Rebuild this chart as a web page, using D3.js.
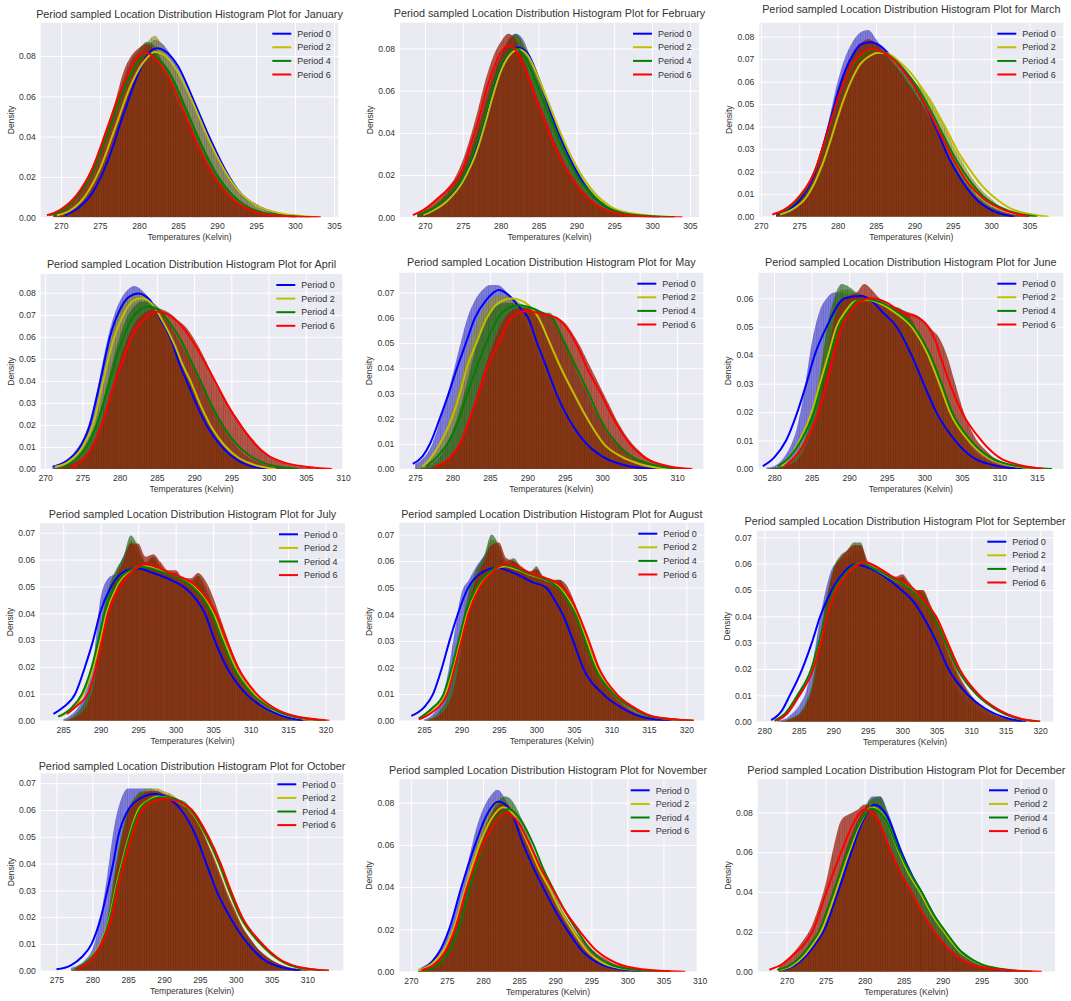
<!DOCTYPE html>
<html>
<head>
<meta charset="utf-8">
<script src="https://cdn.jsdelivr.net/npm/d3@7"></script>
<style>
body { margin: 0; background: #fff; }
svg text { font-family: "Liberation Sans", Arial, sans-serif; fill: #333; }
</style>
</head>
<body>
<svg id="chart" width="1071" height="1001"></svg>
<script>
// Data.
const months = ["January","February","March","April","May","June","July","August","September","October","November","December"];
const periods = ["Period 0","Period 2","Period 4","Period 6"];
// centre of the first 1 K histogram bin, per month
const histStart = [269,269,272,271,275,279,285,285,282,277,271,269];
const xTickValues = [
  [270,275,280,285,290,295,300,305],
  [270,275,280,285,290,295,300,305],
  [270,275,280,285,290,295,300,305],
  [270,275,280,285,290,295,300,305,310],
  [275,280,285,290,295,300,305,310],
  [280,285,290,295,300,305,310,315],
  [285,290,295,300,305,310,315,320],
  [285,290,295,300,305,310,315,320],
  [280,285,290,295,300,305,310,315,320],
  [275,280,285,290,295,300,305,310],
  [270,275,280,285,290,295,300,305,310],
  [270,275,280,285,290,295,300]
];
const yTickValues = [
  [0,0.02,0.04,0.06,0.08],
  [0,0.02,0.04,0.06,0.08],
  [0,0.01,0.02,0.03,0.04,0.05,0.06,0.07,0.08],
  [0,0.01,0.02,0.03,0.04,0.05,0.06,0.07,0.08],
  [0,0.01,0.02,0.03,0.04,0.05,0.06,0.07],
  [0,0.01,0.02,0.03,0.04,0.05,0.06],
  [0,0.01,0.02,0.03,0.04,0.05,0.06,0.07],
  [0,0.01,0.02,0.03,0.04,0.05,0.06,0.07],
  [0,0.01,0.02,0.03,0.04,0.05,0.06,0.07],
  [0,0.01,0.02,0.03,0.04,0.05,0.06,0.07],
  [0,0.02,0.04,0.06,0.08],
  [0,0.02,0.04,0.06,0.08]
];

// histogram density per 1 K bin, order: Period 0, 2, 4, 6
const janHist = [
  [0,0.0005,0.002,0.004,0.007,0.012,0.019,0.028,0.039,0.051,0.063,0.074,0.083,0.088,0.086,0.081,0.074,0.066,0.057,0.048,0.039,0.031,0.023,0.017,0.012,0.008,0.005,0.003,0.0018,0.001,0.0005,0.0002,0],
  [0,0.001,0.003,0.006,0.010,0.016,0.024,0.034,0.046,0.058,0.069,0.078,0.086,0.090,0.085,0.078,0.071,0.063,0.055,0.046,0.038,0.030,0.023,0.017,0.012,0.008,0.006,0.004,0.0025,0.0015,0.0008,0.0004,0.0002],
  [0.001,0.003,0.006,0.010,0.015,0.023,0.032,0.043,0.055,0.068,0.078,0.083,0.087,0.085,0.077,0.070,0.062,0.053,0.044,0.036,0.028,0.021,0.015,0.011,0.007,0.005,0.003,0.002,0.0012,0.0007,0.0004,0.0002,0.0001],
  [0.002,0.004,0.007,0.011,0.017,0.025,0.035,0.046,0.058,0.072,0.080,0.084,0.086,0.082,0.073,0.067,0.057,0.049,0.040,0.032,0.024,0.018,0.013,0.009,0.006,0.004,0.0025,0.0015,0.001,0.0006,0.0003,0.0002,0.0001]
];
const febHist = [
  [0.0005,0.002,0.004,0.007,0.010,0.015,0.022,0.030,0.041,0.053,0.065,0.076,0.083,0.087,0.084,0.075,0.066,0.057,0.047,0.038,0.030,0.023,0.017,0.012,0.008,0.005,0.0035,0.002,0.0012,0.0007,0.0004,0.0002,0],
  [0.0005,0.002,0.004,0.007,0.010,0.015,0.021,0.029,0.039,0.051,0.063,0.074,0.082,0.086,0.083,0.075,0.067,0.058,0.049,0.040,0.032,0.025,0.019,0.014,0.010,0.007,0.0045,0.003,0.0018,0.001,0.0006,0.0003,0.0001],
  [0.001,0.003,0.005,0.008,0.012,0.017,0.023,0.032,0.043,0.056,0.068,0.077,0.084,0.087,0.082,0.073,0.064,0.055,0.046,0.037,0.029,0.022,0.016,0.012,0.008,0.0055,0.0035,0.0022,0.0013,0.0008,0.0004,0.0002,0.0001],
  [0.002,0.004,0.007,0.010,0.014,0.019,0.027,0.038,0.051,0.065,0.076,0.083,0.087,0.084,0.075,0.065,0.055,0.046,0.037,0.029,0.022,0.016,0.012,0.008,0.0055,0.0035,0.0022,0.0014,0.0008,0.0005,0.0003,0.0002,0.0001]
];
const marHist = [
  [0.001,0.003,0.005,0.008,0.013,0.020,0.031,0.045,0.060,0.071,0.078,0.082,0.083,0.079,0.074,0.070,0.066,0.061,0.056,0.050,0.044,0.037,0.030,0.023,0.017,0.012,0.008,0.005,0.003,0.002,0.001,0.0005,0.0002,0.0001],
  [0.0005,0.0015,0.003,0.006,0.010,0.016,0.024,0.034,0.046,0.057,0.066,0.072,0.075,0.076,0.074,0.071,0.068,0.064,0.060,0.057,0.053,0.047,0.040,0.032,0.026,0.020,0.015,0.011,0.008,0.005,0.0035,0.002,0.001,0.0005],
  [0.001,0.002,0.005,0.008,0.013,0.021,0.031,0.043,0.055,0.065,0.072,0.076,0.078,0.077,0.074,0.070,0.066,0.062,0.057,0.052,0.046,0.040,0.033,0.026,0.020,0.015,0.010,0.007,0.0045,0.003,0.0018,0.001,0.0005,0.0002],
  [0.001,0.002,0.005,0.009,0.014,0.021,0.032,0.044,0.056,0.066,0.073,0.077,0.079,0.077,0.073,0.069,0.065,0.060,0.055,0.050,0.044,0.038,0.031,0.024,0.018,0.013,0.009,0.006,0.004,0.0025,0.0015,0.0008,0.0004,0.0002]
];
const aprHist = [
  [0.001,0.002,0.004,0.008,0.013,0.022,0.036,0.053,0.067,0.076,0.081,0.083,0.081,0.077,0.071,0.064,0.057,0.049,0.041,0.032,0.024,0.018,0.013,0.009,0.006,0.004,0.0025,0.0015,0.0008,0.0004,0.0002,0.0001,0,0,0,0],
  [0.0005,0.0015,0.003,0.006,0.011,0.018,0.030,0.046,0.061,0.071,0.077,0.080,0.080,0.077,0.072,0.066,0.059,0.051,0.043,0.035,0.027,0.020,0.015,0.010,0.007,0.0045,0.003,0.0018,0.001,0.0005,0.0002,0.0001,0,0,0,0],
  [0,0.001,0.002,0.004,0.008,0.014,0.022,0.034,0.048,0.060,0.069,0.074,0.076,0.076,0.074,0.070,0.064,0.058,0.052,0.045,0.038,0.031,0.024,0.018,0.013,0.009,0.006,0.004,0.0025,0.0015,0.0008,0.0004,0.0002,0.0001,0,0],
  [0,0.0005,0.0015,0.003,0.005,0.009,0.016,0.026,0.037,0.049,0.059,0.066,0.070,0.072,0.073,0.072,0.070,0.067,0.064,0.059,0.053,0.046,0.039,0.033,0.027,0.022,0.017,0.013,0.009,0.006,0.004,0.0028,0.0018,0.0011,0.0006,0.0003]
];
const mayHist = [
  [0.002,0.004,0.008,0.016,0.026,0.037,0.049,0.060,0.067,0.071,0.073,0.073,0.071,0.067,0.062,0.056,0.049,0.041,0.034,0.027,0.021,0.016,0.012,0.009,0.007,0.005,0.0035,0.0025,0.0015,0.001,0.0006,0.0003,0.0001,0,0,0,0],
  [0.0005,0.0015,0.004,0.008,0.015,0.024,0.034,0.046,0.056,0.063,0.067,0.069,0.069,0.068,0.066,0.064,0.061,0.056,0.050,0.043,0.036,0.030,0.024,0.019,0.015,0.011,0.008,0.006,0.004,0.0025,0.0015,0.001,0.0005,0.0002,0.0001,0,0],
  [0,0.0005,0.0015,0.004,0.008,0.015,0.024,0.035,0.047,0.057,0.063,0.065,0.066,0.066,0.065,0.064,0.063,0.062,0.062,0.057,0.050,0.043,0.036,0.030,0.023,0.018,0.013,0.010,0.007,0.005,0.003,0.002,0.001,0.0005,0.0002,0.0001,0],
  [0,0,0.0005,0.0015,0.003,0.006,0.011,0.018,0.027,0.037,0.046,0.054,0.060,0.063,0.064,0.064,0.063,0.062,0.061,0.060,0.058,0.054,0.049,0.043,0.037,0.031,0.025,0.019,0.014,0.010,0.007,0.0045,0.003,0.0018,0.001,0.0005,0.0002]
];
const junHist = [
  [0.0005,0.001,0.003,0.007,0.014,0.027,0.044,0.055,0.060,0.062,0.062,0.061,0.061,0.060,0.058,0.056,0.053,0.050,0.046,0.041,0.035,0.029,0.023,0.018,0.013,0.009,0.006,0.004,0.003,0.002,0.001,0.0006,0.0003,0.0001,0,0,0,0],
  [0,0.0005,0.001,0.003,0.006,0.011,0.019,0.033,0.050,0.059,0.063,0.063,0.061,0.060,0.059,0.058,0.057,0.057,0.056,0.053,0.048,0.043,0.037,0.030,0.023,0.017,0.012,0.008,0.005,0.0035,0.002,0.0012,0.0007,0.0004,0.0002,0.0001,0,0],
  [0,0.0005,0.001,0.0025,0.005,0.010,0.018,0.031,0.049,0.060,0.065,0.064,0.062,0.061,0.060,0.058,0.057,0.057,0.056,0.054,0.049,0.044,0.038,0.031,0.024,0.018,0.013,0.009,0.006,0.004,0.0025,0.0015,0.0008,0.0004,0.0002,0.0001,0,0],
  [0,0,0.0005,0.0015,0.003,0.007,0.013,0.023,0.038,0.052,0.059,0.061,0.062,0.065,0.063,0.060,0.058,0.057,0.056,0.055,0.054,0.052,0.049,0.046,0.040,0.031,0.022,0.015,0.010,0.007,0.0045,0.003,0.0018,0.001,0.0005,0.0003,0.0001,0]
];
const julHist = [
  [0.0005,0.002,0.005,0.011,0.022,0.046,0.053,0.055,0.061,0.066,0.062,0.058,0.060,0.056,0.055,0.054,0.050,0.050,0.052,0.046,0.038,0.030,0.022,0.016,0.011,0.008,0.0055,0.0035,0.0022,0.0013,0.0007,0.0003,0.0001,0,0],
  [0,0.001,0.003,0.007,0.015,0.033,0.048,0.055,0.060,0.067,0.064,0.059,0.061,0.058,0.055,0.055,0.052,0.052,0.054,0.050,0.043,0.035,0.027,0.020,0.015,0.011,0.0075,0.005,0.0033,0.002,0.0012,0.0006,0.0003,0.0001,0],
  [0,0.001,0.0035,0.008,0.017,0.035,0.049,0.056,0.061,0.069,0.065,0.059,0.061,0.057,0.055,0.055,0.052,0.052,0.054,0.049,0.042,0.034,0.026,0.019,0.014,0.010,0.007,0.0048,0.0031,0.0019,0.0011,0.0006,0.0003,0.0001,0],
  [0,0.0005,0.002,0.005,0.012,0.028,0.044,0.053,0.059,0.066,0.066,0.061,0.062,0.059,0.056,0.056,0.053,0.053,0.055,0.052,0.046,0.038,0.030,0.022,0.016,0.012,0.0085,0.0058,0.0038,0.0024,0.0014,0.0008,0.0004,0.0002,0.0001]
];
const augHist = [
  [0.0005,0.002,0.006,0.015,0.032,0.048,0.053,0.058,0.062,0.066,0.063,0.058,0.059,0.056,0.054,0.055,0.051,0.050,0.049,0.043,0.035,0.027,0.020,0.015,0.011,0.0075,0.005,0.0033,0.002,0.0012,0.0006,0.0003,0.0001,0,0],
  [0,0.001,0.003,0.007,0.016,0.033,0.048,0.056,0.061,0.068,0.066,0.059,0.060,0.057,0.055,0.057,0.053,0.052,0.052,0.049,0.042,0.034,0.027,0.020,0.015,0.011,0.0075,0.005,0.0033,0.002,0.0012,0.0006,0.0003,0.0001,0],
  [0,0.001,0.0035,0.008,0.018,0.035,0.049,0.057,0.062,0.070,0.066,0.060,0.061,0.057,0.055,0.058,0.053,0.052,0.053,0.049,0.042,0.034,0.026,0.019,0.014,0.010,0.007,0.0048,0.0031,0.0019,0.0011,0.0006,0.0003,0.0001,0],
  [0,0.0005,0.002,0.005,0.012,0.028,0.044,0.054,0.060,0.066,0.067,0.061,0.060,0.058,0.056,0.057,0.054,0.053,0.053,0.051,0.045,0.037,0.029,0.022,0.016,0.012,0.0085,0.0058,0.0038,0.0024,0.0014,0.0008,0.0004,0.0002,0.0001]
];
const sepHist = [
  [0.0005,0.001,0.003,0.006,0.011,0.022,0.038,0.051,0.059,0.061,0.062,0.065,0.065,0.058,0.057,0.055,0.053,0.052,0.050,0.049,0.046,0.042,0.036,0.029,0.023,0.017,0.012,0.009,0.006,0.004,0.0028,0.0018,0.0011,0.0006,0.0003,0.0001,0],
  [0,0.0005,0.0015,0.003,0.007,0.015,0.030,0.046,0.058,0.062,0.064,0.067,0.067,0.060,0.058,0.058,0.056,0.054,0.055,0.052,0.050,0.050,0.044,0.038,0.031,0.024,0.018,0.013,0.009,0.0065,0.0045,0.003,0.002,0.0012,0.0006,0.0003,0.0001],
  [0,0.0005,0.0015,0.003,0.007,0.015,0.031,0.047,0.058,0.063,0.065,0.068,0.068,0.059,0.058,0.057,0.056,0.054,0.055,0.052,0.050,0.049,0.044,0.037,0.030,0.023,0.017,0.013,0.009,0.0065,0.0045,0.003,0.002,0.0012,0.0006,0.0003,0.0001],
  [0,0.0003,0.001,0.0025,0.006,0.013,0.028,0.045,0.057,0.062,0.065,0.067,0.067,0.061,0.059,0.058,0.056,0.055,0.056,0.053,0.050,0.050,0.045,0.039,0.032,0.025,0.019,0.014,0.010,0.007,0.005,0.0033,0.0021,0.0012,0.0007,0.0003,0.0001]
];
const octHist = [
  [0.001,0.002,0.004,0.008,0.018,0.034,0.053,0.064,0.068,0.068,0.068,0.068,0.067,0.065,0.063,0.061,0.057,0.053,0.047,0.040,0.033,0.027,0.021,0.016,0.012,0.009,0.0065,0.0045,0.003,0.002,0.0012,0.0006,0.0003,0.0001,0],
  [0,0.001,0.002,0.005,0.010,0.018,0.035,0.050,0.060,0.065,0.067,0.068,0.068,0.067,0.066,0.064,0.062,0.058,0.053,0.047,0.040,0.033,0.026,0.020,0.015,0.011,0.008,0.0055,0.0037,0.0024,0.0015,0.0009,0.0005,0.0002,0.0001],
  [0,0.001,0.002,0.005,0.010,0.018,0.035,0.050,0.060,0.065,0.067,0.067,0.067,0.066,0.065,0.064,0.063,0.059,0.054,0.048,0.041,0.034,0.027,0.021,0.016,0.012,0.0085,0.006,0.004,0.0026,0.0016,0.0009,0.0005,0.0002,0.0001],
  [0,0.0008,0.002,0.004,0.009,0.016,0.032,0.048,0.059,0.064,0.066,0.067,0.067,0.066,0.065,0.064,0.062,0.059,0.054,0.048,0.042,0.035,0.028,0.022,0.016,0.012,0.0085,0.006,0.004,0.0026,0.0016,0.0009,0.0005,0.0002,0.0001]
];
const novHist = [
  [0.001,0.003,0.005,0.010,0.017,0.028,0.040,0.053,0.067,0.077,0.083,0.086,0.082,0.074,0.066,0.057,0.049,0.042,0.035,0.028,0.022,0.017,0.012,0.009,0.006,0.004,0.0025,0.0016,0.001,0.0006,0.0003,0.0001,0,0],
  [0.0005,0.002,0.004,0.008,0.014,0.023,0.034,0.047,0.060,0.071,0.078,0.082,0.081,0.076,0.069,0.061,0.053,0.045,0.038,0.031,0.025,0.019,0.014,0.010,0.007,0.005,0.003,0.002,0.0012,0.0007,0.0004,0.0002,0.0001,0],
  [0.0003,0.001,0.003,0.006,0.011,0.018,0.028,0.040,0.053,0.065,0.074,0.080,0.083,0.081,0.075,0.067,0.058,0.050,0.043,0.036,0.029,0.023,0.017,0.012,0.009,0.006,0.004,0.0025,0.0015,0.0009,0.0005,0.0002,0.0001,0],
  [0.0005,0.002,0.004,0.007,0.012,0.020,0.031,0.043,0.055,0.066,0.073,0.078,0.080,0.077,0.071,0.064,0.056,0.048,0.041,0.034,0.028,0.023,0.018,0.014,0.011,0.008,0.006,0.004,0.0028,0.0018,0.0011,0.0006,0.0003,0.0001]
];
const decHist = [
  [0.0005,0.002,0.004,0.007,0.011,0.016,0.025,0.036,0.049,0.062,0.073,0.082,0.088,0.088,0.080,0.069,0.058,0.049,0.042,0.034,0.027,0.021,0.016,0.011,0.008,0.005,0.0033,0.002,0.0012,0.0006,0.0003,0.0001],
  [0.001,0.002,0.005,0.008,0.012,0.018,0.027,0.039,0.052,0.065,0.075,0.082,0.087,0.086,0.078,0.068,0.058,0.049,0.041,0.033,0.027,0.021,0.016,0.011,0.008,0.0055,0.0035,0.0022,0.0013,0.0007,0.0003,0.0001],
  [0.001,0.003,0.005,0.009,0.013,0.020,0.029,0.041,0.054,0.066,0.075,0.082,0.087,0.088,0.079,0.069,0.059,0.050,0.042,0.035,0.028,0.022,0.017,0.012,0.009,0.006,0.004,0.0025,0.0015,0.0008,0.0004,0.0001],
  [0.003,0.006,0.010,0.015,0.021,0.031,0.044,0.062,0.076,0.079,0.081,0.084,0.083,0.075,0.064,0.054,0.046,0.039,0.032,0.025,0.019,0.015,0.011,0.008,0.0055,0.0037,0.0024,0.0015,0.0009,0.0005,0.0003,0.0001]
];

// fitted density curves as [Kelvin, density] points, order: Period 0, 2, 4, 6
const janCurves = [
  [[270.5,0.001],[272,0.004],[274,0.012],[276,0.028],[278,0.051],[280,0.072],[281,0.080],[282.3,0.0838],[283.5,0.082],[285,0.075],[287,0.058],[289,0.040],[291,0.024],[293,0.012],[295,0.006],[298,0.0015],[300,0]],
  [[269.5,0.001],[271,0.003],[273,0.010],[275,0.024],[277,0.045],[279,0.066],[281,0.079],[282,0.082],[283,0.081],[285,0.072],[287,0.056],[289,0.038],[291,0.023],[293,0.012],[295,0.006],[298,0.002],[303,0]],
  [[268.5,0.001],[270,0.003],[272,0.010],[274,0.022],[276,0.042],[278,0.063],[280,0.078],[281,0.0812],[282,0.080],[284,0.071],[286,0.054],[288,0.036],[290,0.021],[292,0.011],[294,0.005],[297,0.0015],[302,0]],
  [[268.2,0.001],[270,0.004],[272,0.011],[274,0.024],[276,0.045],[278,0.066],[280,0.080],[281,0.0815],[282,0.079],[284,0.068],[286,0.050],[288,0.032],[290,0.018],[292,0.009],[294,0.004],[297,0.001],[303.3,0]]
];
const febCurves = [
  [[270,0.001],[271,0.003],[273,0.008],[275,0.018],[277,0.035],[278,0.047],[279,0.060],[280,0.071],[281,0.078],[282.3,0.0805],[283.5,0.078],[285,0.066],[286,0.056],[287,0.046],[288,0.037],[289,0.029],[290,0.022],[292,0.011],[294,0.005],[297,0.0015],[301,0]],
  [[269.8,0.001],[271,0.003],[273,0.008],[275,0.017],[277,0.033],[278,0.045],[279,0.058],[280,0.069],[281,0.076],[282.4,0.0795],[283.5,0.077],[285,0.066],[286,0.057],[287,0.048],[288,0.039],[289,0.031],[290,0.024],[292,0.013],[294,0.006],[297,0.002],[303,0]],
  [[269,0.001],[271,0.004],[273,0.010],[275,0.019],[277,0.037],[278,0.049],[279,0.062],[280,0.072],[281,0.078],[282,0.080],[283,0.077],[284,0.070],[285,0.061],[286,0.052],[287,0.043],[288,0.034],[289,0.027],[290,0.020],[292,0.011],[294,0.005],[297,0.0015],[303,0]],
  [[268.4,0.001],[270,0.004],[272,0.010],[274,0.017],[275,0.023],[276,0.034],[277,0.045],[278,0.059],[279,0.070],[280,0.078],[281,0.0812],[282,0.079],[283,0.072],[284,0.063],[285,0.053],[286,0.044],[287,0.035],[288,0.027],[289,0.021],[291,0.011],[293,0.005],[296,0.0015],[300,0.0002],[304,0]]
];
const marCurves = [
  [[272,0.001],[274,0.004],[276,0.012],[277,0.019],[278,0.030],[279,0.042],[280,0.055],[281,0.065],[282,0.072],[283,0.0765],[284.3,0.0775],[285.5,0.076],[287,0.071],[288.5,0.065],[290,0.058],[291.5,0.049],[293,0.038],[294.5,0.026],[296,0.017],[298,0.008],[300,0.003],[303,0]],
  [[272.5,0.001],[274,0.003],[276,0.009],[277,0.015],[278,0.023],[279,0.033],[280,0.044],[281,0.054],[282,0.062],[283,0.068],[284,0.071],[285.3,0.0729],[286.5,0.0725],[288,0.069],[289.5,0.064],[291,0.057],[292.5,0.049],[294,0.040],[295.5,0.030],[297,0.022],[299,0.013],[301,0.007],[303,0.003],[307.5,0]],
  [[272,0.001],[274,0.005],[276,0.013],[277,0.020],[278,0.029],[279,0.040],[280,0.051],[281,0.060],[282,0.067],[283,0.071],[284.7,0.0738],[286,0.073],[287.5,0.0695],[289,0.064],[290.5,0.057],[292,0.048],[293.5,0.038],[295,0.028],[297,0.017],[299,0.009],[301,0.0045],[306,0]],
  [[271.5,0.001],[273,0.003],[275,0.009],[277,0.020],[278,0.030],[279,0.041],[280,0.052],[281,0.061],[282,0.068],[283,0.072],[284.5,0.0744],[286,0.073],[287.5,0.069],[289,0.063],[290.5,0.055],[292,0.046],[293.5,0.036],[295,0.026],[297,0.015],[299,0.008],[301,0.004],[305,0]]
];
const aprCurves = [
  [[271,0.001],[273,0.004],[274.5,0.009],[276,0.020],[277.4,0.040],[278.7,0.060],[280,0.072],[281.2,0.078],[282.5,0.0797],[284,0.077],[285.5,0.068],[287,0.058],[288,0.048],[289,0.040],[290.5,0.028],[292,0.018],[293.5,0.011],[295,0.006],[297,0.002],[300,0]],
  [[271.3,0.001],[273,0.003],[275,0.010],[276.5,0.021],[277.8,0.040],[279.2,0.059],[280.5,0.070],[281.7,0.076],[282.9,0.0775],[284.3,0.075],[285.8,0.067],[287.3,0.057],[288.5,0.047],[289.5,0.040],[291,0.028],[292.5,0.018],[294,0.011],[296,0.005],[298,0.002],[301,0]],
  [[272.5,0.001],[274,0.004],[275.5,0.010],[277,0.021],[278.5,0.038],[280,0.055],[281.3,0.066],[282.6,0.072],[283.9,0.0737],[285.3,0.072],[286.8,0.066],[288.3,0.058],[289.6,0.049],[291,0.039],[292.5,0.028],[294,0.019],[295.5,0.012],[297.5,0.006],[300,0.002],[304,0]],
  [[273.5,0.001],[275,0.004],[276.5,0.011],[277.6,0.020],[278.5,0.030],[279.4,0.040],[280.5,0.050],[281.6,0.060],[283,0.067],[285,0.0714],[287,0.069],[288.3,0.065],[289.4,0.060],[290.7,0.053],[292,0.045],[292.8,0.040],[294.5,0.029],[296.2,0.020],[298,0.012],[300,0.006],[302,0.003],[305,0.001],[308.5,0]]
];
const mayCurves = [
  [[274.7,0.002],[276,0.005],[277,0.010],[278.3,0.020],[279.5,0.030],[280.6,0.040],[281.8,0.050],[283,0.060],[284.5,0.067],[286.2,0.071],[287.5,0.069],[289,0.064],[290.1,0.060],[291.3,0.050],[292.6,0.040],[294,0.029],[295.5,0.020],[297.9,0.010],[300,0.005],[303,0.0015],[307,0]],
  [[276,0.001],[277,0.004],[278.3,0.010],[279.9,0.020],[281,0.030],[281.9,0.040],[283.2,0.050],[284.6,0.060],[286.2,0.066],[287.9,0.0677],[289.7,0.066],[291.5,0.060],[293,0.050],[294.5,0.040],[296.2,0.030],[298,0.020],[300.2,0.010],[302.5,0.005],[305,0.002],[309,0]],
  [[276.5,0.001],[278,0.005],[279.3,0.010],[280.9,0.020],[282,0.030],[283.2,0.040],[284.5,0.050],[286.1,0.060],[287.5,0.064],[289,0.065],[290.5,0.064],[292,0.062],[293.3,0.060],[295,0.050],[296.6,0.040],[298.2,0.030],[299.7,0.020],[302,0.010],[304.5,0.004],[307,0.0015],[311,0]],
  [[277.7,0.001],[279.5,0.004],[281,0.010],[282.3,0.020],[283.5,0.030],[284.6,0.040],[286.2,0.050],[287.9,0.060],[289.9,0.0627],[292,0.0615],[293.9,0.060],[295.5,0.055],[296.8,0.048],[298,0.040],[299.8,0.030],[301.5,0.020],[303.7,0.010],[306,0.004],[309,0.001],[312,0]]
];
const junCurves = [
  [[278.5,0.001],[280,0.004],[281.6,0.010],[283.1,0.020],[284.3,0.030],[285.4,0.040],[287,0.050],[289.4,0.060],[291.6,0.0608],[293,0.059],[294.5,0.055],[296.3,0.050],[298.3,0.040],[299.9,0.030],[301.6,0.020],[304.1,0.010],[306.5,0.004],[309,0.0015],[313,0]],
  [[281,0.001],[282,0.004],[283.4,0.010],[285,0.020],[286.1,0.030],[287.2,0.040],[288.3,0.050],[289.4,0.055],[290.8,0.059],[292.5,0.0594],[294.3,0.058],[296.1,0.055],[298.3,0.050],[300.5,0.040],[302,0.030],[303.4,0.020],[305.9,0.010],[308.5,0.004],[311,0.0015],[316,0]],
  [[280.5,0.001],[282,0.004],[283.6,0.010],[285.3,0.020],[286.4,0.030],[287.5,0.040],[288.6,0.050],[289.8,0.055],[291,0.059],[292.3,0.0597],[294.3,0.0585],[296.3,0.0555],[298.6,0.050],[300.8,0.040],[302.3,0.030],[303.7,0.020],[306.2,0.010],[308.8,0.004],[311.5,0.0015],[317,0]],
  [[281.5,0.001],[283,0.005],[284.3,0.010],[285.9,0.020],[287,0.030],[287.9,0.040],[289,0.050],[290.1,0.055],[291.5,0.059],[293,0.060],[295,0.0585],[297,0.055],[299,0.0535],[300.5,0.050],[301.5,0.045],[302.1,0.040],[303.4,0.030],[305,0.020],[307.6,0.010],[310,0.004],[312.5,0.0015],[316,0]]
];
const julCurves = [
  [[283.7,0.0025],[285,0.005],[286.6,0.010],[287.9,0.020],[289,0.030],[289.9,0.040],[291.4,0.050],[292.8,0.055],[294.8,0.0568],[297,0.055],[299.7,0.052],[301,0.050],[302.8,0.045],[303.9,0.040],[305.2,0.030],[306.8,0.020],[309.4,0.010],[311.7,0.005],[314,0.002],[317,0]],
  [[284.5,0.0015],[286,0.004],[287.7,0.010],[289,0.020],[289.9,0.030],[290.7,0.040],[292.1,0.050],[293.5,0.055],[295.7,0.0575],[298.8,0.055],[302.4,0.050],[304,0.045],[305,0.040],[306.4,0.030],[307.9,0.020],[310.4,0.010],[312.7,0.005],[315,0.002],[320,0]],
  [[284.3,0.0015],[286,0.0045],[287.5,0.010],[288.8,0.020],[289.7,0.030],[290.5,0.040],[291.9,0.050],[293.3,0.055],[295.5,0.0572],[298.5,0.055],[302.2,0.050],[303.8,0.045],[304.8,0.040],[306.2,0.030],[307.7,0.020],[310.2,0.010],[312.5,0.005],[315,0.002],[320,0]],
  [[285.5,0.0025],[287,0.006],[288.3,0.010],[289.4,0.020],[290.2,0.030],[291,0.040],[292.6,0.050],[294,0.055],[296.1,0.0583],[299.2,0.055],[302.8,0.050],[304.3,0.045],[305.4,0.040],[306.8,0.030],[308.3,0.020],[310.8,0.010],[313,0.005],[315.5,0.002],[320.5,0]]
];
const augCurves = [
  [[283.3,0.0018],[285,0.005],[286.2,0.010],[287.4,0.020],[288.4,0.030],[289.5,0.040],[290.9,0.050],[292.4,0.055],[294.7,0.0575],[297,0.0555],[299.5,0.052],[301.3,0.050],[302.5,0.045],[303.5,0.040],[304.9,0.030],[306.2,0.020],[308.9,0.010],[311.3,0.005],[314,0.0015],[318,0]],
  [[284.5,0.0008],[286,0.004],[287.8,0.010],[288.9,0.020],[289.8,0.030],[290.7,0.040],[292.2,0.050],[293.6,0.055],[295.8,0.058],[299,0.055],[303.1,0.050],[304.4,0.045],[305.4,0.040],[306.7,0.030],[308,0.020],[310.5,0.010],[312.8,0.005],[315.5,0.0015],[321,0]],
  [[284.3,0.0008],[286,0.0045],[287.6,0.010],[288.7,0.020],[289.6,0.030],[290.5,0.040],[292,0.050],[293.4,0.055],[295.6,0.0585],[298.8,0.0555],[302.9,0.050],[304.2,0.045],[305.2,0.040],[306.5,0.030],[307.8,0.020],[310.3,0.010],[312.6,0.005],[315.3,0.0015],[321,0]],
  [[284.3,0.0005],[286,0.003],[288.1,0.010],[289.1,0.020],[290,0.030],[290.9,0.040],[292.4,0.050],[293.8,0.055],[296,0.059],[299.2,0.0555],[303.6,0.050],[304.8,0.045],[305.6,0.040],[307,0.030],[308.3,0.020],[310.7,0.010],[313,0.005],[315.7,0.0015],[321,0]]
];
const sepCurves = [
  [[281,0.0006],[282.5,0.004],[283.7,0.010],[285.5,0.020],[286.9,0.030],[288.1,0.040],[289.8,0.050],[291,0.055],[293.2,0.0598],[295.5,0.058],[297.5,0.055],[299.9,0.050],[301.8,0.045],[303,0.040],[305,0.030],[306.7,0.020],[309.6,0.010],[312,0.005],[315,0.0015],[318,0]],
  [[281.5,0.0003],[283,0.003],[284.9,0.010],[286.9,0.020],[288,0.030],[289,0.040],[290.2,0.050],[291.5,0.055],[294.1,0.0603],[296,0.058],[298,0.055],[301.4,0.050],[303.2,0.045],[304.7,0.040],[306.4,0.030],[308.1,0.020],[311,0.010],[313.5,0.005],[316.5,0.0015],[320,0]],
  [[281.5,0.0003],[283,0.003],[284.8,0.010],[286.8,0.020],[287.9,0.030],[288.9,0.040],[290.1,0.050],[291.4,0.055],[294,0.0602],[296,0.058],[298,0.0552],[301.3,0.050],[303.1,0.045],[304.6,0.040],[306.3,0.030],[308,0.020],[310.9,0.010],[313.4,0.005],[316.4,0.0015],[320,0]],
  [[281.8,0.0003],[283.3,0.003],[285.1,0.010],[287.1,0.020],[288.2,0.030],[289.1,0.040],[290.4,0.050],[291.7,0.055],[294.6,0.0605],[296.5,0.0585],[298.3,0.0555],[301.6,0.0505],[303.4,0.045],[304.9,0.040],[306.6,0.030],[308.3,0.020],[311.2,0.010],[313.7,0.005],[316.7,0.0015],[320,0]]
];
const octCurves = [
  [[275,0.0005],[277,0.002],[278.5,0.005],[279.9,0.010],[281.2,0.020],[282.1,0.030],[282.9,0.040],[283.6,0.050],[285,0.060],[286.5,0.064],[288.7,0.066],[290.5,0.0645],[292.4,0.060],[294.5,0.050],[295.9,0.040],[297.3,0.030],[299.2,0.020],[301.7,0.010],[304,0.004],[306.5,0.0012],[309,0]],
  [[277.5,0.0005],[279.5,0.004],[281.1,0.010],[282.4,0.020],[283.2,0.030],[284.1,0.040],[285.1,0.050],[286.4,0.060],[287.8,0.0635],[289.2,0.065],[291.2,0.064],[293.6,0.060],[295.9,0.050],[297.6,0.040],[299,0.030],[300.6,0.020],[303.4,0.010],[306,0.004],[309,0.001],[313,0]],
  [[277.5,0.0005],[279.5,0.004],[281.2,0.010],[282.5,0.020],[283.3,0.030],[284.2,0.040],[285.2,0.050],[286.6,0.060],[288,0.0635],[289.4,0.0648],[291.3,0.064],[293.7,0.060],[296,0.050],[297.7,0.040],[299.1,0.030],[300.7,0.020],[303.5,0.010],[306.1,0.004],[309,0.001],[313,0]],
  [[277.8,0.0005],[279.8,0.004],[281.3,0.010],[282.7,0.020],[283.5,0.030],[284.4,0.040],[285.5,0.050],[286.9,0.060],[288.3,0.063],[289.7,0.064],[291.5,0.0635],[293.9,0.060],[296.2,0.050],[297.9,0.040],[299.3,0.030],[300.9,0.020],[303.7,0.010],[306.3,0.004],[309.5,0.001],[313,0]]
];
const novCurves = [
  [[271.5,0.001],[273,0.005],[274.2,0.011],[275.3,0.020],[277,0.040],[278.9,0.060],[280.5,0.074],[282.1,0.0805],[283.8,0.076],[285.6,0.060],[287,0.049],[288.3,0.040],[290,0.029],[291.6,0.020],[293.7,0.010],[296,0.004],[299,0.0012],[305,0]],
  [[271,0.0005],[273,0.004],[274.7,0.011],[275.9,0.020],[277.6,0.040],[279.5,0.060],[281.1,0.072],[282.8,0.0778],[284.5,0.073],[286.3,0.060],[287.7,0.049],[289.1,0.040],[290.7,0.029],[292.3,0.020],[294.4,0.010],[296.7,0.004],[300,0.0012],[306,0]],
  [[272,0.0005],[274,0.004],[275.5,0.011],[276.6,0.020],[278.2,0.040],[280.1,0.060],[281.8,0.072],[283.5,0.077],[285.2,0.072],[287,0.060],[288.3,0.049],[289.6,0.040],[291.3,0.029],[292.9,0.020],[295,0.010],[297.3,0.004],[300.5,0.0012],[306,0]],
  [[271.5,0.0008],[273.5,0.004],[275,0.011],[276.1,0.020],[277.8,0.040],[280,0.060],[281.6,0.070],[283.2,0.0752],[284.8,0.071],[286.5,0.060],[288,0.049],[289.5,0.040],[291.3,0.029],[293.2,0.020],[295.7,0.010],[298.5,0.004],[302,0.0012],[308,0]]
];
const decCurves = [
  [[269.5,0.001],[271,0.003],[272.5,0.008],[273.7,0.014],[274.7,0.020],[276.6,0.040],[278.3,0.060],[279.8,0.076],[281.3,0.0838],[282.9,0.078],[284.7,0.060],[286,0.049],[287.3,0.040],[288.8,0.029],[290.3,0.020],[292.2,0.010],[294.5,0.004],[297,0.0012],[300,0]],
  [[269.2,0.001],[270.7,0.003],[272.2,0.008],[273.4,0.014],[274.4,0.020],[276.3,0.040],[278,0.060],[279.5,0.075],[280.9,0.0825],[282.5,0.078],[284.4,0.060],[285.7,0.049],[287.1,0.040],[288.6,0.029],[290.2,0.020],[292.2,0.010],[294.6,0.004],[297.5,0.0012],[301,0]],
  [[268.8,0.001],[270.4,0.003],[271.9,0.008],[273.1,0.014],[274.1,0.020],[276,0.040],[277.8,0.060],[279.4,0.075],[280.9,0.082],[282.6,0.077],[284.5,0.060],[285.9,0.049],[287.3,0.040],[288.8,0.029],[290.4,0.020],[292.4,0.010],[294.8,0.004],[297.8,0.0012],[301.5,0]],
  [[267.8,0.001],[269.5,0.004],[271,0.009],[272.3,0.014],[273.3,0.020],[275.1,0.040],[277,0.060],[278.5,0.074],[280,0.0813],[281.6,0.077],[283.4,0.060],[284.7,0.049],[286,0.040],[287.5,0.029],[289,0.020],[291.1,0.010],[293.5,0.004],[297,0.0012],[302.7,0]]
];

const monthHists = [janHist, febHist, marHist, aprHist, mayHist, junHist, julHist, augHist, sepHist, octHist, novHist, decHist];
const monthCurves = [janCurves, febCurves, marCurves, aprCurves, mayCurves, junCurves, julCurves, augCurves, sepCurves, octCurves, novCurves, decCurves];

// Layout: plot box in page pixels, x domain, y top, title centre y.
const panels = [
  {l:40.7, t:22.7, r:338.3, b:217.3, xd:[267.4,305.55], ym:0.0965, ty:14},
  {l:400, t:22.7, r:699, b:217.3, xd:[266.7,306.2], ym:0.0922, ty:13.5},
  {l:759.3, t:22.7, r:1063.3, b:216.7, xd:[269.8,309.4], ym:0.0862, ty:9.5},
  {l:40.7, t:274, r:342.3, b:469, xd:[269.4,309.9], ym:0.0885, ty:264},
  {l:399.3, t:272.7, r:703.3, b:469, xd:[272.9,313.5], ym:0.0779, ty:261.7},
  {l:758.3, t:272.7, r:1063.3, b:469, xd:[277.9,318.5], ym:0.069, ty:261.7},
  {l:40, t:523.3, r:345, b:720.7, xd:[281.9,322.6], ym:0.0735, ty:514},
  {l:399.3, t:522.7, r:704.3, b:720.7, xd:[281.7,322.4], ym:0.0744, ty:514},
  {l:756.7, t:530.7, r:1053.3, b:721.7, xd:[278.9,321.9], ym:0.0725, ty:520.7},
  {l:40.7, t:773.3, r:343.3, b:970.7, xd:[272.8,315], ym:0.0737, ty:765.7},
  {l:399.3, t:779.3, r:696.7, b:971.7, xd:[268.4,309.6], ym:0.091, ty:770},
  {l:757.7, t:779.3, r:1055, b:971.7, xd:[266.3,304.4], ym:0.0966, ty:770}
];

const lineColors = ["#0000ff", "#bfbf00", "#008000", "#ff0000"];
const barColors = ["#3232d2", "#969614", "#146414", "#a01e0a"];
const barAlpha = [0.6, 0.6, 0.6, 0.72];

const svg = d3.select("#chart");

// thin dark bin-edge stripes laid over the histogram fill
const pat = svg.append("defs").append("pattern")
  .attr("id", "binEdges")
  .attr("patternUnits", "userSpaceOnUse")
  .attr("width", 2.4).attr("height", 10);
pat.append("rect").attr("x", 0).attr("y", 0).attr("width", 0.6).attr("height", 10)
  .attr("fill", "#2a0800").attr("fill-opacity", 0.22);

function drawPanel(m) {
  const p = panels[m];
  const w = p.r - p.l, h = p.b - p.t;
  const x = d3.scaleLinear().domain(p.xd).range([0, w]);
  const y = d3.scaleLinear().domain([0, p.ym]).range([h, 0]);

  const g = svg.append("g").attr("transform", "translate(" + p.l + "," + p.t + ")");

  g.append("rect").attr("width", w).attr("height", h).attr("fill", "#eaeaf2");
  g.append("clipPath").attr("id", "clip" + m)
    .append("rect").attr("width", w).attr("height", h);

  // grid
  g.append("g").attr("transform", "translate(0," + h + ")")
    .call(d3.axisBottom(x).tickValues(xTickValues[m]).tickSize(-h).tickFormat(""))
    .call(s => s.select(".domain").remove())
    .selectAll("line").attr("stroke", "#fff").attr("stroke-width", 1);
  g.append("g")
    .call(d3.axisLeft(y).tickValues(yTickValues[m]).tickSize(-w).tickFormat(""))
    .call(s => s.select(".domain").remove())
    .selectAll("line").attr("stroke", "#fff").attr("stroke-width", 1);

  const plot = g.append("g").attr("clip-path", "url(#clip" + m + ")");

  // histograms, one filled layer per period
  const area = d3.area()
    .x((d, i) => x(histStart[m] + i))
    .y0(h)
    .y1(d => y(d))
    .curve(d3.curveMonotoneX);
  monthHists[m].forEach((vals, k) => {
    plot.append("path")
      .attr("d", area(vals))
      .attr("fill", barColors[k])
      .attr("fill-opacity", barAlpha[k])
      .attr("stroke", "none");
  });
  // bin edges over the highest of the four histograms
  const hs = monthHists[m];
  const top = d3.range(d3.max(hs, a => a.length)).map(i => d3.max(hs, a => a[i] || 0));
  plot.append("path")
    .attr("d", area(top))
    .attr("fill", "url(#binEdges)");

  // fitted curves
  const line = d3.line()
    .x(d => x(d[0]))
    .y(d => y(d[1]))
    .curve(d3.curveMonotoneX);
  monthCurves[m].forEach((pts, k) => {
    plot.append("path")
      .attr("d", line(pts))
      .attr("fill", "none")
      .attr("stroke", lineColors[k])
      .attr("stroke-width", 2);
  });

  // tick labels
  g.append("g").attr("transform", "translate(0," + h + ")")
    .call(d3.axisBottom(x).tickValues(xTickValues[m]).tickSize(0).tickPadding(6).tickFormat(d3.format("d")))
    .call(s => s.select(".domain").remove())
    .selectAll("text").attr("font-size", 8.6).attr("fill", "#333");
  g.append("g")
    .call(d3.axisLeft(y).tickValues(yTickValues[m]).tickSize(0).tickPadding(5).tickFormat(d3.format(".2f")))
    .call(s => s.select(".domain").remove())
    .selectAll("text").attr("font-size", 8.6).attr("fill", "#333");

  // axis titles
  g.append("text")
    .attr("x", w / 2).attr("y", h + 23)
    .attr("text-anchor", "middle")
    .attr("font-size", 8.6)
    .text("Temperatures (Kelvin)");
  g.append("text")
    .attr("transform", "translate(-27," + (h / 2) + ") rotate(-90)")
    .attr("text-anchor", "middle")
    .attr("font-size", 8.6)
    .text("Density");

  // title
  svg.append("text")
    .attr("x", (p.l + p.r) / 2).attr("y", p.ty + 3.8)
    .attr("text-anchor", "middle")
    .attr("font-size", 10.8)
    .text("Period sampled Location Distribution Histogram Plot for " + months[m]);

  // legend
  const lg = g.append("g").attr("transform", "translate(" + (w - 66) + ",11)");
  periods.forEach((name, k) => {
    lg.append("line")
      .attr("x1", 0).attr("x2", 19)
      .attr("y1", k * 13.6).attr("y2", k * 13.6)
      .attr("stroke", lineColors[k]).attr("stroke-width", 2);
    lg.append("text")
      .attr("x", 25).attr("y", k * 13.6 + 3.2)
      .attr("font-size", 9)
      .text(name);
  });
}

months.forEach((d, m) => drawPanel(m));
</script>
</body>
</html>
